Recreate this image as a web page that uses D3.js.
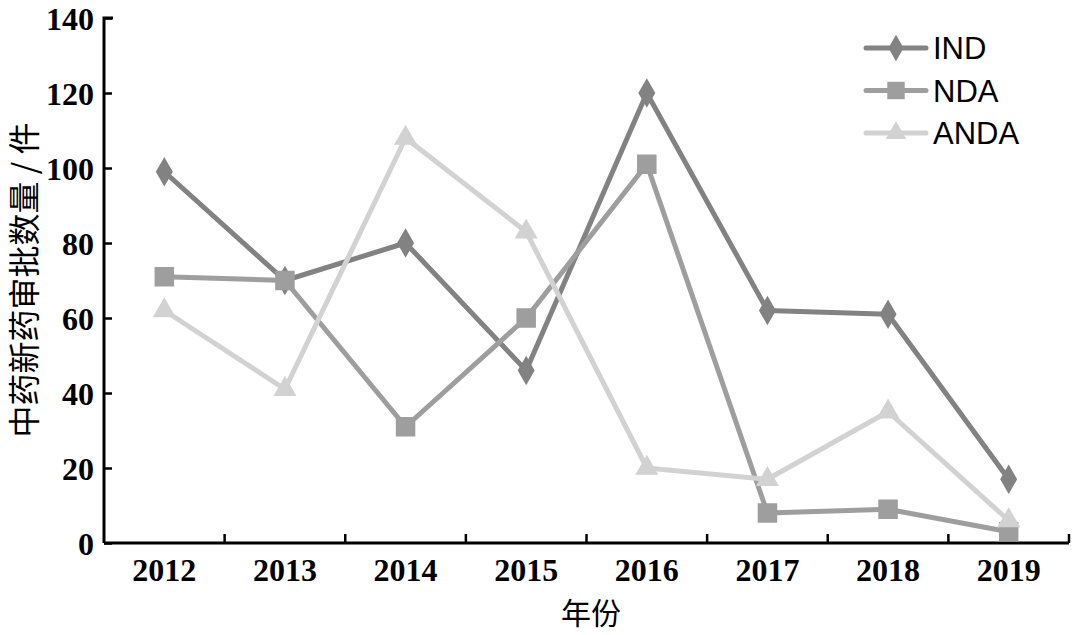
<!DOCTYPE html>
<html>
<head>
<meta charset="utf-8">
<script src="https://cdn.jsdelivr.net/npm/d3@7"></script>
<style>
  body { margin: 0; background: #fff; }
  svg { display: block; }
</style>
</head>
<body>
<div id="chart"></div>
<script>
var years = ["2012", "2013", "2014", "2015", "2016", "2017", "2018", "2019"];
var indValues = [99, 70, 80, 46, 120, 62, 61, 17];
var ndaValues = [71, 70, 31, 60, 101, 8, 9, 3];
var andaValues = [62, 41, 108, 83, 20, 17, 35, 6];
var yTicks = [0, 20, 40, 60, 80, 100, 120, 140];

var width = 1080, height = 635,
    marginLeft = 104, marginTop = 18,
    plotW = 1069 - marginLeft, plotH = 543 - marginTop;

var series = [
    { name: "IND", values: indValues, color: "#828282", symbol: d3.symbolDiamond, size: 250 },
    { name: "NDA", values: ndaValues, color: "#9e9e9e", symbol: d3.symbolSquare, size: 380 },
    { name: "ANDA", values: andaValues, color: "#d2d2d2", symbol: d3.symbolTriangle, size: 230 }
];

var svg = d3.select("#chart")
    .append("svg")
    .attr("width", width)
    .attr("height", height);

var g = svg.append("g")
    .attr("transform", "translate(" + marginLeft + "," + marginTop + ")");

var x = d3.scaleBand()
        .domain(years)
        .range([0, plotW]),
    y = d3.scaleLinear()
        .domain([0, 140])
        .range([plotH, 0]);

var tickFont = "bold 32px 'Liberation Serif', 'Times New Roman', serif";

// x axis: ticks between categories, pointing up
var xAxis = g.append("g")
    .attr("transform", "translate(0," + plotH + ")");
xAxis.append("line")
    .attr("x1", 0).attr("x2", plotW)
    .attr("stroke", "#000").attr("stroke-width", 3);
xAxis.selectAll("line.tick")
    .data(years.slice(1).concat(["end"]))
    .join("line")
    .attr("class", "tick")
    .attr("x1", (d, i) => (i + 1) * x.step())
    .attr("x2", (d, i) => (i + 1) * x.step())
    .attr("y1", 0).attr("y2", -9)
    .attr("stroke", "#000").attr("stroke-width", 2.5);
xAxis.selectAll("text")
    .data(years)
    .join("text")
    .attr("x", d => x(d) + x.bandwidth() / 2)
    .attr("y", 38)
    .attr("text-anchor", "middle")
    .style("font", tickFont)
    .text(d => d);

// y axis
var yAxis = g.append("g")
    .call(d3.axisLeft(y).tickValues(yTicks).tickSize(-8));
yAxis.select(".domain")
    .attr("stroke-width", 3)
    .attr("d", "M0," + plotH + "V0H9");
yAxis.selectAll(".tick line").attr("stroke-width", 2.5);
yAxis.selectAll(".tick text")
    .attr("x", -10)
    .attr("dy", "0.36em")
    .style("font", tickFont)
    .attr("fill", "#000");

// axis titles
svg.append("text")
    .attr("transform", "translate(36,280) rotate(-90)")
    .attr("text-anchor", "middle")
    .style("font", "32px 'Noto Sans CJK SC', sans-serif")
    .text("中药新药审批数量 / 件");

svg.append("text")
    .attr("x", 591)
    .attr("y", 624)
    .attr("text-anchor", "middle")
    .style("font", "30px 'Noto Sans CJK SC', sans-serif")
    .text("年份");

// lines and markers
var line = d3.line()
    .x((d, i) => x(years[i]) + x.bandwidth() / 2)
    .y(d => y(d));

series.forEach(s => {
    g.append("path")
        .attr("d", line(s.values))
        .attr("fill", "none")
        .attr("stroke", s.color)
        .attr("stroke-width", 5)
        .attr("stroke-linejoin", "round");
    g.selectAll(null)
        .data(s.values)
        .join("path")
        .attr("transform", (d, i) => "translate(" + (x(years[i]) + x.bandwidth() / 2) + "," + y(d) + ")")
        .attr("d", d3.symbol().type(s.symbol).size(s.size))
        .attr("fill", s.color);
});

// legend
var legend = svg.append("g")
    .attr("transform", "translate(866,48)");
var item = legend.selectAll("g")
    .data(series)
    .join("g")
    .attr("transform", (d, i) => "translate(0," + i * 42.5 + ")");
item.append("line")
    .attr("x1", 0).attr("x2", 60)
    .attr("stroke", d => d.color)
    .attr("stroke-width", 5)
    .attr("stroke-linecap", "round");
item.append("path")
    .attr("transform", "translate(30,0)")
    .attr("d", d => d3.symbol().type(d.symbol).size(d.size * 0.8)())
    .attr("fill", d => d.color);
item.append("text")
    .attr("x", 67)
    .attr("dy", "0.36em")
    .style("font", "31px 'Liberation Sans', Arial, sans-serif")
    .text(d => d.name);
</script>
</body>
</html>
